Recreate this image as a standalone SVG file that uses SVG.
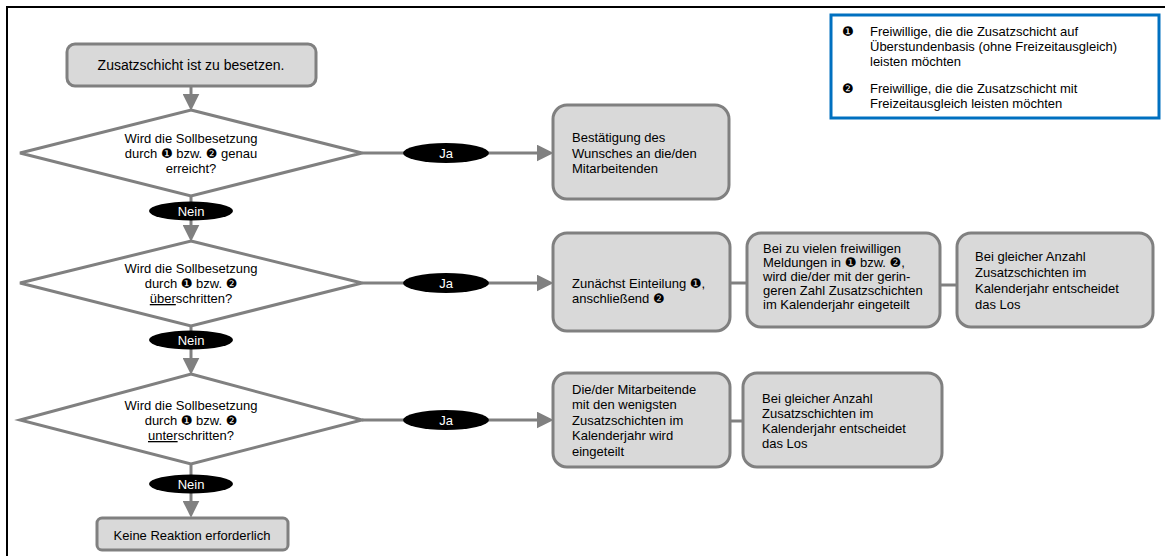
<svg xmlns="http://www.w3.org/2000/svg" width="1165" height="556" viewBox="0 0 1165 556">
<defs>
<style>
text{font-family:"Liberation Sans",Arial,"DejaVu Sans",sans-serif;font-size:13px;fill:#000}
.box{fill:#d9d9d9;stroke:#808080;stroke-width:3}
.dia{fill:#fff;stroke:#808080;stroke-width:3}
.ln{stroke:#808080;stroke-width:3;fill:none}
.arr{marker-end:url(#ah)}
.lbl{fill:#000}
.lt{fill:#fff;text-anchor:middle}
.c{text-anchor:middle}
</style>
<marker id="ah" markerUnits="userSpaceOnUse" markerWidth="17" markerHeight="17" viewBox="0 0 16 16" refX="6" refY="8" orient="auto">
<path d="M0,0 L16,8 L0,16 z" fill="#808080"/>
</marker>
</defs>
<rect width="1165" height="556" fill="#fff"/>
<path d="M7,556 L7,7 L1165,7" fill="none" stroke="#000" stroke-width="2"/>

<g id="connectors">
<line class="ln arr" x1="191" y1="86" x2="191" y2="100"/>
<line class="ln arr" x1="191" y1="196" x2="191" y2="231"/>
<line class="ln arr" x1="191" y1="326" x2="191" y2="364"/>
<line class="ln arr" x1="191" y1="464" x2="191" y2="507"/>
<line class="ln arr" x1="362" y1="153" x2="543" y2="153"/>
<line class="ln arr" x1="362" y1="283" x2="543" y2="283"/>
<line class="ln arr" x1="362" y1="420" x2="543" y2="420"/>
<line class="ln" x1="730" y1="283" x2="747" y2="283"/>
<line class="ln" x1="940" y1="285" x2="957" y2="285"/>
<line class="ln" x1="730" y1="421" x2="743" y2="421"/>
<g id="lbl-nein1"><ellipse class="lbl" cx="191" cy="211" rx="42" ry="9.5"/><text class="lt" x="191" y="215.5">Nein</text></g>
<g id="lbl-nein2"><ellipse class="lbl" cx="191" cy="340" rx="42" ry="9.5"/><text class="lt" x="191" y="344.5">Nein</text></g>
<g id="lbl-nein3"><ellipse class="lbl" cx="191" cy="484" rx="42" ry="9.5"/><text class="lt" x="191" y="488.5">Nein</text></g>
<g id="lbl-ja1"><ellipse class="lbl" cx="446" cy="153" rx="43" ry="10"/><text class="lt" x="446" y="157.5">Ja</text></g>
<g id="lbl-ja2"><ellipse class="lbl" cx="446" cy="283" rx="43" ry="10"/><text class="lt" x="446" y="287.5">Ja</text></g>
<g id="lbl-ja3"><ellipse class="lbl" cx="446" cy="420" rx="43" ry="10"/><text class="lt" x="446" y="424.5">Ja</text></g>
</g>

<g id="start">
<rect class="box" x="67" y="44" width="249" height="42" rx="8"/>
<text class="c" x="191" y="70" style="font-size:14px">Zusatzschicht ist zu besetzen.</text>
</g>

<g id="d1">
<polygon class="dia" points="191,110 362,153 191,196 20,153"/>
<text class="c" x="191" y="143">Wird die Sollbesetzung</text>
<text class="c" x="191" y="158">durch ❶ bzw. ❷ genau</text>
<text class="c" x="191" y="173">erreicht?</text>
</g>

<g id="d2">
<polygon class="dia" points="191,241 362,283 191,326 20,283"/>
<text class="c" x="191" y="273">Wird die Sollbesetzung</text>
<text class="c" x="191" y="288">durch ❶ bzw. ❷</text>
<text class="c" x="191" y="303"><tspan style="text-decoration:underline">über</tspan>schritten?</text>
</g>

<g id="d3">
<polygon class="dia" points="191,374 362,420 191,464 20,420"/>
<text class="c" x="191" y="410">Wird die Sollbesetzung</text>
<text class="c" x="191" y="425">durch ❶ bzw. ❷</text>
<text class="c" x="191" y="440"><tspan style="text-decoration:underline">unter</tspan>schritten?</text>
</g>

<g id="end">
<rect class="box" x="97" y="518" width="191" height="32" rx="5"/>
<text class="c" x="192" y="539.5">Keine Reaktion erforderlich</text>
</g>

<g id="b1">
<rect class="box" x="553" y="105" width="176" height="94" rx="14"/>
<text x="572" y="142">Bestätigung des</text>
<text x="572" y="157.5">Wunsches an die/den</text>
<text x="572" y="173">Mitarbeitenden</text>
</g>

<g id="b2">
<rect class="box" x="553" y="233" width="177" height="98" rx="14"/>
<text x="572" y="288">Zunächst Einteilung ❶,</text>
<text x="572" y="302.5">anschließend ❷</text>
</g>

<g id="b3">
<rect class="box" x="747" y="233" width="193" height="94" rx="14"/>
<g style="font-size:12px">
<text x="763" y="253">Bei zu vielen freiwilligen</text>
<text x="763" y="267">Meldungen in ❶ bzw. ❷,</text>
<text x="763" y="281">wird die/der mit der gerin-</text>
<text x="763" y="295">geren Zahl Zusatzschichten</text>
<text x="763" y="309">im Kalenderjahr eingeteilt</text>
</g>
</g>

<g id="b4">
<rect class="box" x="957" y="233" width="196" height="94" rx="14"/>
<text x="975" y="260.5">Bei gleicher Anzahl</text>
<text x="975" y="276.5">Zusatzschichten im</text>
<text x="975" y="292.5">Kalenderjahr entscheidet</text>
<text x="975" y="308.5">das Los</text>
</g>

<g id="b5">
<rect class="box" x="553" y="373" width="177" height="94" rx="14"/>
<text x="572" y="393.5">Die/der Mitarbeitende</text>
<text x="572" y="409">mit den wenigsten</text>
<text x="572" y="424.5">Zusatzschichten im</text>
<text x="572" y="440">Kalenderjahr wird</text>
<text x="572" y="455.5">eingeteilt</text>
</g>

<g id="b6">
<rect class="box" x="743" y="373" width="199" height="94" rx="14"/>
<text x="762" y="402.5">Bei gleicher Anzahl</text>
<text x="762" y="417.5">Zusatzschichten im</text>
<text x="762" y="432.5">Kalenderjahr entscheidet</text>
<text x="762" y="447.5">das Los</text>
</g>

<g id="legend">
<rect x="831" y="15" width="328" height="103" fill="#fff" stroke="#0070c0" stroke-width="3"/>
<text x="842" y="36">❶</text>
<text x="870" y="36">Freiwillige, die die Zusatzschicht auf</text>
<text x="870" y="51">Überstundenbasis (ohne Freizeitausgleich)</text>
<text x="870" y="66">leisten möchten</text>
<text x="842" y="93">❷</text>
<text x="870" y="93">Freiwillige, die die Zusatzschicht mit</text>
<text x="870" y="108">Freizeitausgleich leisten möchten</text>
</g>
</svg>
